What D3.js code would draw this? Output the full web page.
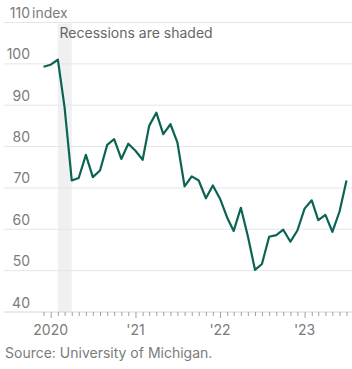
<!DOCTYPE html>
<html>
<head>
<meta charset="utf-8">
<script src="https://cdn.jsdelivr.net/npm/d3@7"></script>
<style>
  body { margin: 0; background: #fff; }
  svg { display: block; font-family: Inter, "Open Sans", sans-serif; }
</style>
</head>
<body>
<svg id="chart" width="352" height="369"></svg>
<script>
// monthly index, Dec 2019 - Jul 2023
let months = [
  "2019-12", "2020-01", "2020-02", "2020-03", "2020-04", "2020-05", "2020-06", "2020-07",
  "2020-08", "2020-09", "2020-10", "2020-11", "2020-12", "2021-01", "2021-02", "2021-03",
  "2021-04", "2021-05", "2021-06", "2021-07", "2021-08", "2021-09", "2021-10", "2021-11",
  "2021-12", "2022-01", "2022-02", "2022-03", "2022-04", "2022-05", "2022-06", "2022-07",
  "2022-08", "2022-09", "2022-10", "2022-11", "2022-12", "2023-01", "2023-02", "2023-03",
  "2023-04", "2023-05", "2023-06", "2023-07"
];
let sentiment = [
  99.3, 99.8, 101.0, 89.5, 71.8, 72.4, 78.0, 72.6,
  74.2, 80.4, 81.8, 77.0, 80.7, 79.0, 76.8, 85.0,
  88.2, 83.0, 85.4, 81.0, 70.4, 72.8, 71.8, 67.5,
  70.6, 67.4, 62.8, 59.6, 65.2, 58.4, 50.2, 51.6,
  58.2, 58.6, 59.9, 57.0, 59.7, 65.0, 67.0, 62.2,
  63.5, 59.4, 64.3, 71.8
];
let yTicks = [40, 50, 60, 70, 80, 90, 100, 110];
let yearTicks = ["2020-01", "2021-01", "2022-01", "2023-01"];
let yearLabels = ["2020", "'21", "'22", "'23"];
let recession = ["2020-02", "2020-04"];

let parseMonth = d3.timeParse("%Y-%m");
let data = months.map((m, i) => ({ date: parseMonth(m), value: sentiment[i] }));

let svg = d3.select("#chart");
let textColor = "#7b7b7b";

let x = d3.scaleTime()
  .domain([parseMonth("2019-12"), parseMonth("2023-07")])
  .range([43.5, 346.5]);

let y = d3.scaleLinear()
  .domain([40, 110])
  .range([312, 22.5]);

// recession shading
svg.append("rect")
  .attr("x", x(parseMonth(recession[0])))
  .attr("y", y(110) + 1)
  .attr("width", x(parseMonth(recession[1])) - x(parseMonth(recession[0])))
  .attr("height", y(40) - y(110) - 1)
  .attr("fill", "#eff0f2");

// gridlines
svg.append("g").selectAll("line")
  .data(yTicks)
  .enter().append("line")
  .attr("x1", 4).attr("x2", 352)
  .attr("y1", d => y(d)).attr("y2", d => y(d))
  .attr("stroke", d => d == 40 ? "#d6d6d6" : "#e6e6e6")
  .attr("stroke-width", 1);

// y labels
svg.append("g").selectAll("text")
  .data(yTicks)
  .enter().append("text")
  .attr("x", 30)
  .attr("y", d => y(d) - 4.5)
  .attr("text-anchor", "end")
  .attr("font-size", 14)
  .attr("fill", textColor)
  .text(d => d);

svg.append("text")
  .attr("x", 32)
  .attr("y", y(110) - 4.5)
  .attr("font-size", 14)
  .attr("fill", textColor)
  .text("index");

svg.append("text")
  .attr("x", 59.5)
  .attr("y", 38)
  .attr("font-size", 14)
  .attr("fill", "#666")
  .text("Recessions are shaded");

// x axis: monthly ticks, longer at each January
let monthTicks = d3.timeMonth.range(parseMonth("2019-12"), parseMonth("2023-08"));
let xAxis = d3.axisBottom(x)
  .tickValues(monthTicks)
  .tickSize(4)
  .tickFormat("");

let axisG = svg.append("g")
  .attr("transform", "translate(0," + y(40) + ")")
  .call(xAxis);
axisG.select(".domain").remove();
axisG.selectAll(".tick line")
  .attr("stroke", "#a0a0a0")
  .attr("y2", d => d.getMonth() == 0 ? 6 : 4);

svg.append("g").selectAll("text")
  .data(yearTicks)
  .enter().append("text")
  .attr("x", d => x(parseMonth(d)))
  .attr("y", 335)
  .attr("text-anchor", "middle")
  .attr("font-size", 14)
  .attr("fill", textColor)
  .text((d, i) => yearLabels[i]);

// the line
let line = d3.line()
  .x(d => x(d.date))
  .y(d => y(d.value));

svg.append("path")
  .datum(data)
  .attr("d", line)
  .attr("fill", "none")
  .attr("stroke", "#0b6354")
  .attr("stroke-width", 2.2)
  .attr("stroke-linejoin", "round");

svg.append("text")
  .attr("x", 5)
  .attr("y", 358)
  .attr("font-size", 14)
  .attr("fill", textColor)
  .text("Source: University of Michigan.");
</script>
</body>
</html>
